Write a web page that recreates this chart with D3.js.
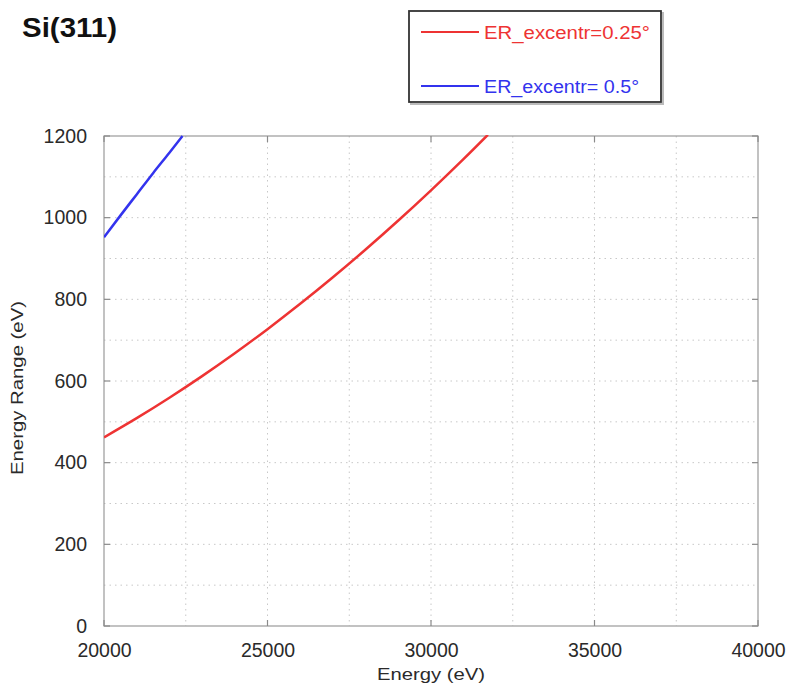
<!DOCTYPE html>
<html>
<head>
<meta charset="utf-8">
<script src="https://cdn.jsdelivr.net/npm/d3@7"></script>
<style>
  body { margin: 0; background: #fff; }
  text { font-family: "Liberation Sans", Arial, sans-serif; }
</style>
</head>
<body>
<svg id="chart" width="791" height="684"></svg>
<script>
// ---- data ----
const redEnergy = [20000, 21000, 22000, 23000, 24000, 25000, 26000, 27000, 28000, 29000, 30000, 31000, 31740];
const redRange  = [462,   509,   559,   612,   668,   727,   789,   854,   922,   993,   1067,  1144,  1203];
const blueEnergy = [20000, 20500, 21000, 21500, 22000, 22400];
const blueRange  = [952,   1005,  1057,  1109,  1159,  1200];
const xTicks = [20000, 25000, 30000, 35000, 40000];
const yTicks = [0, 200, 400, 600, 800, 1000, 1200];
const xGrid = [22500, 25000, 27500, 30000, 32500, 35000, 37500];
const yGrid = [100, 200, 300, 400, 500, 600, 700, 800, 900, 1000, 1100];
const seriesNames = ["ER_excentr=0.25°", "ER_excentr= 0.5°"];
const seriesColors = ["#ee3333", "#3333ee"];

const svg = d3.select("#chart");
const L = 104, R = 758, T = 136, B = 626;
const x = d3.scaleLinear().domain([20000, 40000]).range([L, R]);
const y = d3.scaleLinear().domain([0, 1200]).range([B, T]);

// grid
const g = svg.append("g");
g.selectAll(".gx").data(xGrid).enter().append("line")
  .attr("x1", d => x(d)).attr("x2", d => x(d)).attr("y1", T).attr("y2", B)
  .attr("stroke", "#c8c8c8").attr("stroke-width", 1).attr("stroke-dasharray", "1.5,4");
g.selectAll(".gy").data(yGrid).enter().append("line")
  .attr("y1", d => y(d)).attr("y2", d => y(d)).attr("x1", L).attr("x2", R)
  .attr("stroke", "#c8c8c8").attr("stroke-width", 1).attr("stroke-dasharray", "1.5,4");

// frame
svg.append("rect").attr("x", L).attr("y", T).attr("width", R - L).attr("height", B - T)
  .attr("fill", "none").attr("stroke", "#9a9a9a").attr("stroke-width", 1.2);

// inward ticks on all sides
const tk = 6;
xTicks.forEach(v => {
  svg.append("line").attr("x1", x(v)).attr("x2", x(v)).attr("y1", B).attr("y2", B - tk).attr("stroke", "#8a8a8a").attr("stroke-width", 1.2);
  svg.append("line").attr("x1", x(v)).attr("x2", x(v)).attr("y1", T).attr("y2", T + tk).attr("stroke", "#8a8a8a").attr("stroke-width", 1.2);
});
yTicks.forEach(v => {
  svg.append("line").attr("x1", L).attr("x2", L + tk).attr("y1", y(v)).attr("y2", y(v)).attr("stroke", "#8a8a8a").attr("stroke-width", 1.2);
  svg.append("line").attr("x1", R).attr("x2", R - tk).attr("y1", y(v)).attr("y2", y(v)).attr("stroke", "#8a8a8a").attr("stroke-width", 1.2);
});

// axes labels via d3 axes (no domain/tick lines)
const xAxis = svg.append("g").attr("transform", `translate(0,${B})`)
  .call(d3.axisBottom(x).tickValues(xTicks).tickSize(0).tickPadding(17).tickFormat(d3.format("d")));
const yAxis = svg.append("g").attr("transform", `translate(${L},0)`)
  .call(d3.axisLeft(y).tickValues(yTicks).tickSize(0).tickPadding(17).tickFormat(d3.format("d")));
[xAxis, yAxis].forEach(a => {
  a.select(".domain").remove();
  a.selectAll("text").attr("font-size", 19.5).attr("fill", "#2a2a2a")
    .attr("font-family", "'Liberation Sans', Arial, sans-serif");
});

// curves
svg.append("clipPath").attr("id", "clip").append("rect")
  .attr("x", L).attr("y", T - 1).attr("width", R - L).attr("height", B - T + 1);
const line = d3.line().x(d => x(d[0])).y(d => y(d[1])).curve(d3.curveMonotoneX);
const series = [
  d3.zip(redEnergy, redRange),
  d3.zip(blueEnergy, blueRange)
];
series.forEach((s, i) => {
  svg.append("path").datum(s).attr("d", line).attr("fill", "none")
    .attr("stroke", seriesColors[i]).attr("stroke-width", 2.5).attr("clip-path", "url(#clip)");
});

// axis titles
svg.append("text").attr("x", x(30000)).attr("y", 680).attr("text-anchor", "middle")
  .attr("font-size", 17).attr("fill", "#2a2a2a")
  .attr("textLength", 108).attr("lengthAdjust", "spacingAndGlyphs").text("Energy (eV)");
svg.append("text").attr("transform", "translate(23,388) rotate(-90)").attr("text-anchor", "middle")
  .attr("font-size", 17).attr("fill", "#2a2a2a")
  .attr("textLength", 174).attr("lengthAdjust", "spacingAndGlyphs").text("Energy Range (eV)");

// title
svg.append("text").attr("x", 22).attr("y", 37).attr("font-size", 27).attr("font-weight", "bold")
  .attr("fill", "#111").attr("textLength", 95).attr("lengthAdjust", "spacingAndGlyphs").text("Si(311)");

// legend
svg.append("rect").attr("x", 411).attr("y", 13).attr("width", 252).attr("height", 91)
  .attr("fill", "none").attr("stroke", "#bbb").attr("stroke-width", 2);
svg.append("rect").attr("x", 409).attr("y", 11).attr("width", 252).attr("height", 91)
  .attr("fill", "#fff").attr("stroke", "#333").attr("stroke-width", 1.8);
const legY = [32, 86];
seriesNames.forEach((n, i) => {
  svg.append("line").attr("x1", 421).attr("x2", 479).attr("y1", legY[i]).attr("y2", legY[i])
    .attr("stroke", seriesColors[i]).attr("stroke-width", 2);
  svg.append("text").attr("x", 484).attr("y", legY[i] + 6.5).attr("font-size", 18)
    .attr("fill", seriesColors[i]).attr("textLength", i === 0 ? 166 : 155)
    .attr("lengthAdjust", "spacingAndGlyphs").text(n);
});
</script>
</body>
</html>
